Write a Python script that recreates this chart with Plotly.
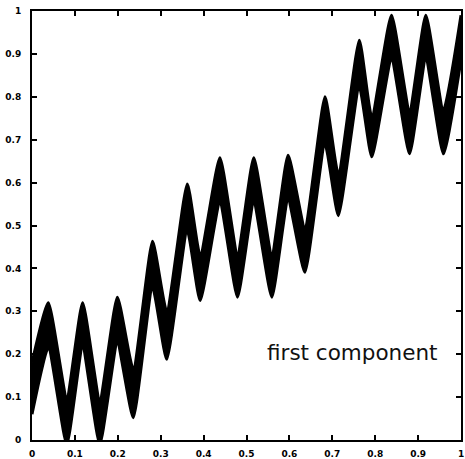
import plotly.graph_objects as go

# x positions of the peaks and troughs of the oscillating band
x_pts = [0.0, 0.038, 0.081, 0.118, 0.158, 0.199, 0.236, 0.281, 0.314, 0.362, 0.392,
         0.438, 0.479, 0.517, 0.559, 0.597, 0.636, 0.683, 0.714, 0.763, 0.792,
         0.838, 0.880, 0.918, 0.959, 1.0]
# upper edge of the thick black band
upper_edge = [0.18, 0.32, 0.10, 0.32, 0.095, 0.333, 0.165, 0.463, 0.30, 0.597, 0.43,
              0.658, 0.434, 0.658, 0.434, 0.664, 0.496, 0.80, 0.62, 0.932, 0.753,
              0.99, 0.769, 0.99, 0.769, 0.99]
# lower edge of the thick black band
lower_edge = [0.06, 0.215, -0.01, 0.215, -0.01, 0.225, 0.052, 0.356, 0.188, 0.488, 0.325,
              0.551, 0.333, 0.551, 0.333, 0.558, 0.391, 0.69, 0.523, 0.823, 0.66,
              0.886, 0.667, 0.886, 0.667, 0.886]

tick_vals = [0, 0.1, 0.2, 0.3, 0.4, 0.5, 0.6, 0.7, 0.8, 0.9, 1]
tick_text = ["0", "0.1", "0.2", "0.3", "0.4", "0.5", "0.6", "0.7", "0.8", "0.9", "1"]
label_text = "first component"

fig = go.Figure()
fig.add_trace(go.Scatter(x=x_pts, y=lower_edge, mode="lines",
                         line=dict(color="black", width=3, shape="spline", smoothing=0.5),
                         showlegend=False, hoverinfo="skip"))
fig.add_trace(go.Scatter(x=x_pts, y=upper_edge, mode="lines", fill="tonexty",
                         fillcolor="black",
                         line=dict(color="black", width=3, shape="spline", smoothing=0.5),
                         showlegend=False, hoverinfo="skip"))

fig.add_annotation(x=0.542, y=0.205, xref="x", yref="y", text=label_text,
                   showarrow=False, xanchor="left", yanchor="middle",
                   font=dict(family="DejaVu Sans", size=21.5, color="#111111"))

axis_common = dict(range=[0, 1], tickvals=tick_vals, ticktext=tick_text,
                   ticks="inside", ticklen=5, tickwidth=2, tickcolor="black",
                   showline=True, linecolor="black", linewidth=2, mirror="ticks",
                   showgrid=False, zeroline=False, automargin=False,
                   tickfont=dict(family="DejaVu Sans", size=9, color="black", weight="bold"))

fig.update_xaxes(**axis_common, ticklabelstandoff=4)
fig.update_yaxes(**axis_common, ticklabelstandoff=7)

fig.update_layout(width=465, height=459,
                  margin=dict(l=32, r=4, t=11, b=19),
                  plot_bgcolor="white", paper_bgcolor="white",
                  hovermode=False)

fig.write_html("out.html",
               config={"displayModeBar": False},
               post_script="document.body.style.margin='0';document.body.style.overflow='hidden';")
